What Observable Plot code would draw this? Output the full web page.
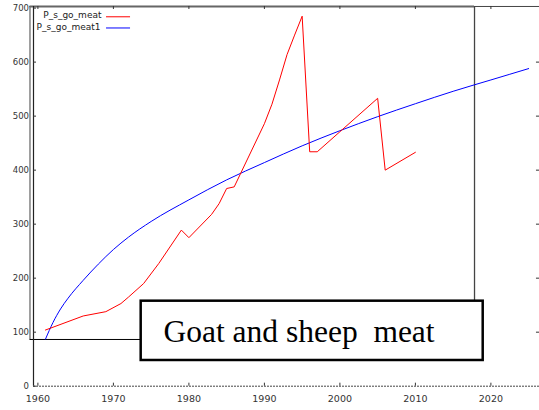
<!DOCTYPE html>
<html><head><meta charset="utf-8">
<script src="https://cdn.jsdelivr.net/npm/d3@7"></script>
<script src="https://cdn.jsdelivr.net/npm/@observablehq/plot@0.6"></script>
<style>
html,body{margin:0;padding:0;background:#fff;}
#chart{width:539px;height:410px;overflow:hidden}
</style></head><body><div id="chart"></div>
<script>
const seriesNames = ["P_s_go_meat", "P_s_go_meat1"];
const redYears  = [1961,1966,1969,1971,1972,1974,1976,1979,1980,1983,1984,1985,1986,1990,1991,1992,1993,1994,1995,1996,1997,2005,2006,2010];
const redValues = [104, 130, 138, 153, 165, 190, 227, 289, 275, 318, 338, 366, 369, 486, 522, 567, 614, 650, 685, 434, 434, 533, 400, 433];
const blueYears  = [1961,1962,1963,1964,1966,1968,1970,1972,1975,1980,1985,1990,1995,2000,2005,2010,2015,2020,2025];
const blueValues = [87,  118, 143, 163, 196, 226, 253, 276, 305, 345, 382, 414, 445, 473, 499, 523, 546, 567, 588];
const xTicks = [1960,1970,1980,1990,2000,2010,2020];
const yTicks = [0,100,200,300,400,500,600,700];
const titleText = "Goat and sheep\u00a0 meat";

const red = redYears.map((x, i) => ({x, y: redValues[i]}));
const blue = blueYears.map((x, i) => ({x, y: blueValues[i]}));

const X0 = 1959.417, X1 = 2026.437;
// overlay frame and title box (data units)
const fx1 = 1958.95, fx2 = 2017.83, fy1 = 86.5, fy2 = 703.0;
const bx1 = 1973.68, bx2 = 2018.98, by1 = 47.6, by2 = 157.4;
const tx = 0.4, ty = 5.6;

const chart = Plot.plot({
  width: 539, height: 410,
  marginLeft: 33, marginRight: 0, marginTop: 7.6, marginBottom: 24.3,
  x: {domain: [X0, X1], label: null},
  y: {domain: [0, 700], label: null},
  style: {fontFamily: "DejaVu Sans", fontSize: "8.5px", color: "#333", background: "white", overflow: "visible"},
  marks: [
    Plot.ruleX([fx1], {y1: fy1, y2: fy2, stroke: "#8a8a8a", strokeWidth: 1.6}),
    Plot.ruleY([fy2], {x1: fx1, x2: X1, stroke: "#444", strokeWidth: 1}),
    Plot.ruleY([fy2], {x1: fx1, x2: fx2, stroke: "#666", strokeWidth: 2}),
    Plot.ruleX([fx2], {y1: by2, y2: fy2, stroke: "#444", strokeWidth: 1.3}),
    Plot.ruleY([fy1], {x1: fx1, x2: bx1, stroke: "#000", strokeWidth: 1}),
    Plot.ruleX([X0], {y1: 0, y2: fy2, stroke: "#222", strokeWidth: 1.2}),
    Plot.ruleY([0], {x1: X0, x2: X1, stroke: "#444", strokeDasharray: "2,1"}),
    Plot.ruleY(yTicks, {x1: X0, x2: X0 + tx, stroke: "#333"}),
    Plot.ruleY(yTicks.filter(d => d > 0 && d < 700), {x1: X1 - tx, x2: X1, stroke: "#333"}),
    Plot.ruleX(xTicks, {y1: 0, y2: ty, stroke: "#333"}),
    Plot.ruleX(xTicks, {y1: fy2, y2: fy2 - ty, stroke: "#333"}),
    Plot.axisY(yTicks, {tickSize: 0, tickPadding: 4.5, fontSize: 8.5, label: null, tickFormat: d => String(d)}),
    Plot.axisX(xTicks, {tickSize: 0, tickPadding: 9, fontSize: 9.5, label: null, tickFormat: d => String(d)}),
    Plot.line(blue, {x: "x", y: "y", stroke: "blue", strokeWidth: 1, curve: "monotone-x"}),
    Plot.line(red, {x: "x", y: "y", stroke: "red", strokeWidth: 1}),
    Plot.text([seriesNames[0]], {x: 1968.42, y: 686.7, text: d => d, textAnchor: "end", fontSize: 9, fill: "#222"}),
    Plot.text([seriesNames[1]], {x: 1968.29, y: 664.5, text: d => d, textAnchor: "end", fontSize: 9, fill: "#222"}),
    Plot.ruleY([683.9], {x1: 1969.09, x2: 1972.27, stroke: "red"}),
    Plot.ruleY([663.2], {x1: 1969.09, x2: 1972.27, stroke: "blue"}),
    Plot.rect([0], {x1: bx1, x2: bx2, y1: by1, y2: by2, fill: "white", stroke: "black", strokeWidth: 2.5}),
    Plot.text([titleText], {x: 1976.63, y: 99.7, text: d => d, textAnchor: "start", fontFamily: "Liberation Serif", fontSize: 31.5, fill: "black"})
  ]
});
document.getElementById("chart").appendChild(chart);
</script></body></html>
